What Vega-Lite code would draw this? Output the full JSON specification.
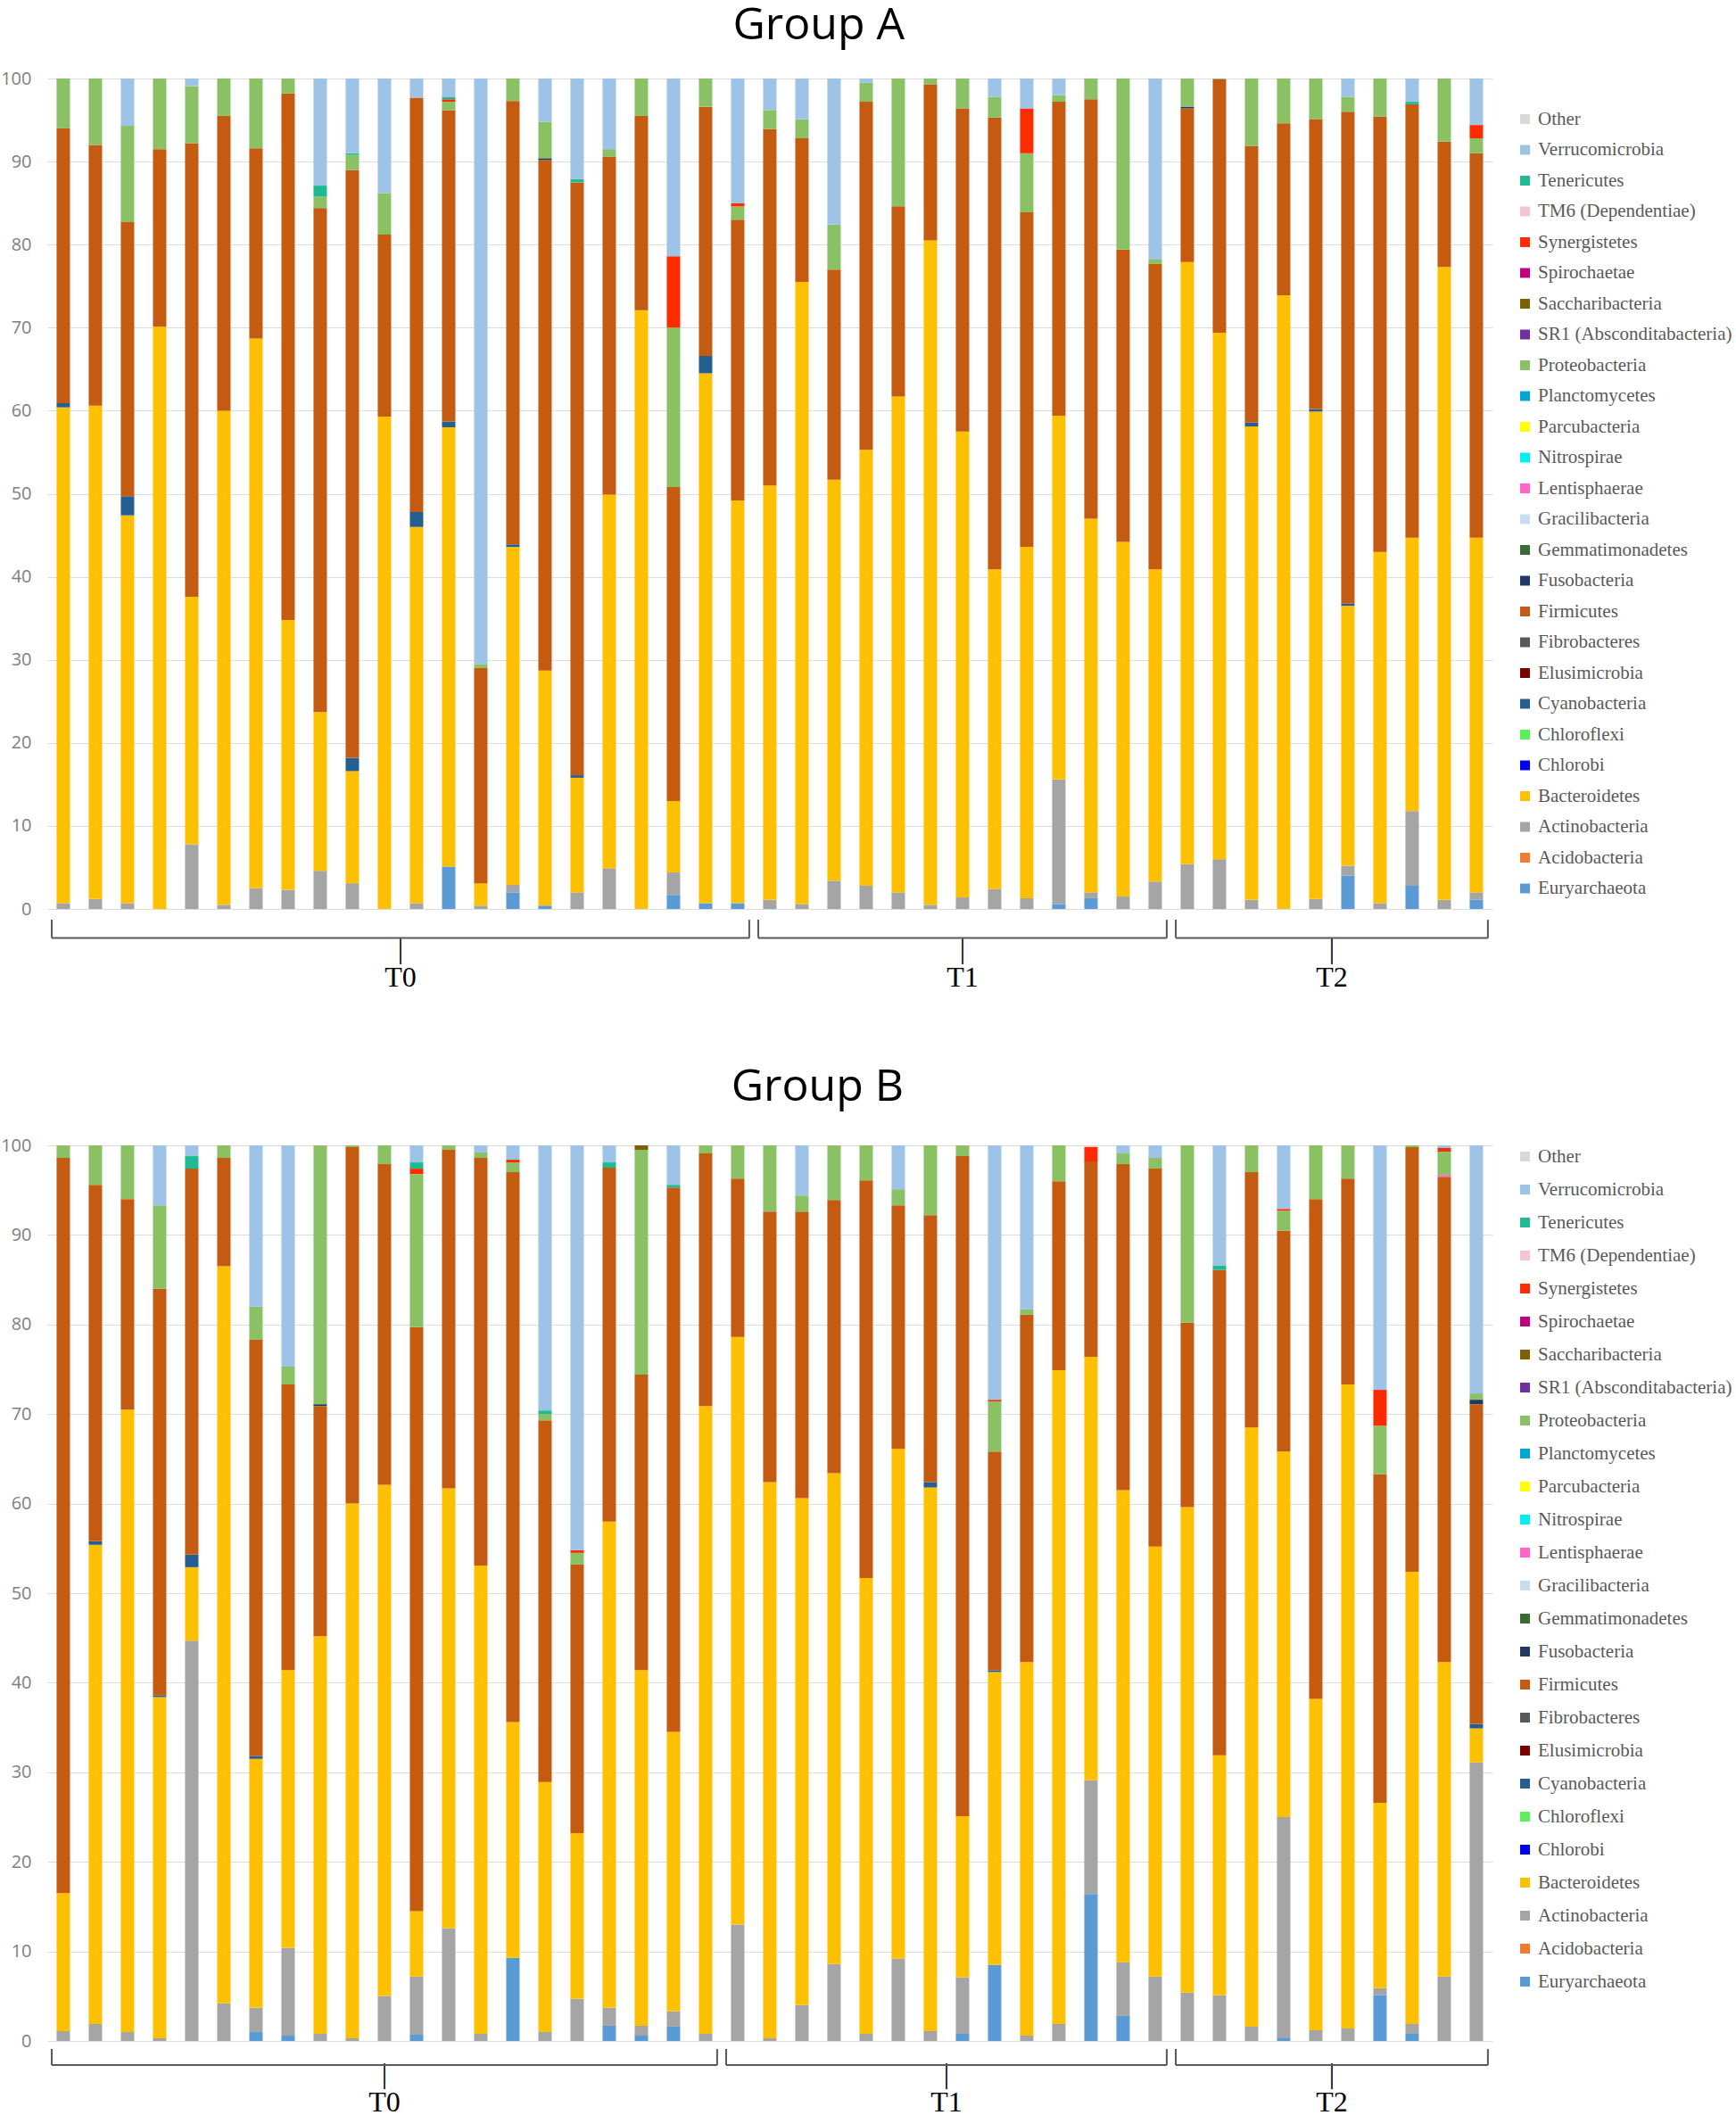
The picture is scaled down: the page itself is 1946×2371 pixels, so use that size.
{
 "$schema": "https://vega.github.io/schema/vega-lite/v6.json",
 "padding": {"left": 0, "top": 4, "right": 0, "bottom": 0},
 "background": "white",
 "config": {"view": {"stroke": null}, "font": "Open Sans", "facet": {"spacing": 0}},
 "datasets": {
  "groupA": [
   {"sample":"A01","time":"T0","Actinobacteria":0.7,"Bacteroidetes":59.7,"Cyanobacteria":0.5,"Firmicutes":33.1,"Proteobacteria":6.0},
   {"sample":"A02","time":"T0","Actinobacteria":1.2,"Bacteroidetes":59.4,"Firmicutes":31.4,"Proteobacteria":8.0},
   {"sample":"A03","time":"T0","Actinobacteria":0.7,"Bacteroidetes":46.7,"Cyanobacteria":2.3,"Firmicutes":33.0,"Proteobacteria":11.6,"Verrucomicrobia":5.7},
   {"sample":"A04","time":"T0","Bacteroidetes":70.1,"Firmicutes":21.4,"Proteobacteria":8.5},
   {"sample":"A05","time":"T0","Actinobacteria":7.8,"Bacteroidetes":29.8,"Firmicutes":54.6,"Proteobacteria":6.9,"Verrucomicrobia":0.9},
   {"sample":"A06","time":"T0","Actinobacteria":0.5,"Bacteroidetes":59.5,"Firmicutes":35.5,"Proteobacteria":4.5},
   {"sample":"A07","time":"T0","Actinobacteria":2.5,"Bacteroidetes":66.2,"Firmicutes":22.9,"Proteobacteria":8.4},
   {"sample":"A08","time":"T0","Actinobacteria":2.3,"Bacteroidetes":32.5,"Firmicutes":63.4,"Proteobacteria":1.8},
   {"sample":"A09","time":"T0","Actinobacteria":4.6,"Bacteroidetes":19.1,"Firmicutes":60.7,"Proteobacteria":1.4,"Tenericutes":1.3,"Verrucomicrobia":12.9},
   {"sample":"A10","time":"T0","Actinobacteria":3.1,"Bacteroidetes":13.5,"Cyanobacteria":1.6,"Firmicutes":70.8,"Proteobacteria":1.8,"Tenericutes":0.2,"Verrucomicrobia":9.0},
   {"sample":"A11","time":"T0","Bacteroidetes":59.3,"Firmicutes":21.9,"Proteobacteria":5.0,"Verrucomicrobia":13.8},
   {"sample":"A12","time":"T0","Actinobacteria":0.7,"Bacteroidetes":45.3,"Cyanobacteria":1.8,"Firmicutes":49.9,"Verrucomicrobia":2.3},
   {"sample":"A13","time":"T0","Euryarchaeota":5.1,"Bacteroidetes":52.9,"Cyanobacteria":0.7,"Firmicutes":37.5,"Proteobacteria":1.0,"Synergistetes":0.3,"Tenericutes":0.3,"Verrucomicrobia":2.2},
   {"sample":"A14","time":"T0","Actinobacteria":0.4,"Bacteroidetes":2.7,"Firmicutes":25.9,"Proteobacteria":0.5,"Verrucomicrobia":70.5},
   {"sample":"A15","time":"T0","Euryarchaeota":2.0,"Actinobacteria":0.9,"Bacteroidetes":40.7,"Cyanobacteria":0.3,"Firmicutes":53.4,"Proteobacteria":2.7},
   {"sample":"A16","time":"T0","Euryarchaeota":0.4,"Bacteroidetes":28.3,"Firmicutes":61.5,"Proteobacteria":4.4,"Fusobacteria":0.2,"Verrucomicrobia":5.2},
   {"sample":"A17","time":"T0","Actinobacteria":2.0,"Bacteroidetes":13.8,"Cyanobacteria":0.3,"Firmicutes":71.4,"Tenericutes":0.4,"Verrucomicrobia":12.1},
   {"sample":"A18","time":"T0","Actinobacteria":4.9,"Bacteroidetes":45.0,"Firmicutes":40.7,"Proteobacteria":0.9,"Verrucomicrobia":8.5},
   {"sample":"A19","time":"T0","Bacteroidetes":72.1,"Firmicutes":23.4,"Proteobacteria":4.5},
   {"sample":"A20","time":"T0","Euryarchaeota":1.7,"Actinobacteria":2.7,"Bacteroidetes":8.6,"Firmicutes":37.8,"Proteobacteria":19.2,"Synergistetes":8.6,"Verrucomicrobia":21.4},
   {"sample":"A21","time":"T0","Euryarchaeota":0.7,"Bacteroidetes":63.8,"Cyanobacteria":2.1,"Firmicutes":30.0,"Proteobacteria":3.4},
   {"sample":"A22","time":"T0","Euryarchaeota":0.7,"Bacteroidetes":48.5,"Firmicutes":33.8,"Proteobacteria":1.6,"Synergistetes":0.4,"Verrucomicrobia":15.0},
   {"sample":"A23","time":"T1","Actinobacteria":1.1,"Bacteroidetes":49.9,"Firmicutes":42.9,"Proteobacteria":2.3,"Verrucomicrobia":3.8},
   {"sample":"A24","time":"T1","Actinobacteria":0.6,"Bacteroidetes":74.9,"Firmicutes":17.3,"Proteobacteria":2.3,"Verrucomicrobia":4.9},
   {"sample":"A25","time":"T1","Actinobacteria":3.4,"Bacteroidetes":48.3,"Firmicutes":25.3,"Proteobacteria":5.4,"Verrucomicrobia":17.6},
   {"sample":"A26","time":"T1","Actinobacteria":2.8,"Bacteroidetes":52.5,"Firmicutes":41.9,"Proteobacteria":2.3,"Verrucomicrobia":0.5},
   {"sample":"A27","time":"T1","Actinobacteria":2.0,"Bacteroidetes":59.7,"Firmicutes":22.9,"Proteobacteria":15.4},
   {"sample":"A28","time":"T1","Actinobacteria":0.5,"Bacteroidetes":80.0,"Firmicutes":18.8,"Proteobacteria":0.7},
   {"sample":"A29","time":"T1","Actinobacteria":1.4,"Bacteroidetes":56.1,"Firmicutes":38.9,"Proteobacteria":3.6},
   {"sample":"A30","time":"T1","Actinobacteria":2.4,"Bacteroidetes":38.5,"Firmicutes":54.4,"Proteobacteria":2.5,"Verrucomicrobia":2.2},
   {"sample":"A31","time":"T1","Actinobacteria":1.3,"Bacteroidetes":42.3,"Firmicutes":40.3,"Proteobacteria":7.1,"Synergistetes":5.4,"Verrucomicrobia":3.6},
   {"sample":"A32","time":"T1","Euryarchaeota":0.6,"Actinobacteria":15.0,"Bacteroidetes":43.8,"Firmicutes":37.8,"Proteobacteria":0.8,"Verrucomicrobia":2.0},
   {"sample":"A33","time":"T1","Euryarchaeota":1.3,"Actinobacteria":0.7,"Bacteroidetes":45.0,"Firmicutes":50.5,"Proteobacteria":2.5},
   {"sample":"A34","time":"T1","Actinobacteria":1.5,"Bacteroidetes":42.7,"Firmicutes":35.2,"Proteobacteria":20.6},
   {"sample":"A35","time":"T1","Actinobacteria":3.3,"Bacteroidetes":37.6,"Firmicutes":36.8,"Proteobacteria":0.5,"Verrucomicrobia":21.8},
   {"sample":"A36","time":"T2","Actinobacteria":5.4,"Bacteroidetes":72.5,"Firmicutes":18.5,"Fusobacteria":0.2,"Proteobacteria":3.4},
   {"sample":"A37","time":"T2","Actinobacteria":6.0,"Bacteroidetes":63.4,"Firmicutes":30.5,"Proteobacteria":0.1},
   {"sample":"A38","time":"T2","Actinobacteria":1.1,"Bacteroidetes":57.0,"Cyanobacteria":0.5,"Firmicutes":33.3,"Proteobacteria":8.1},
   {"sample":"A39","time":"T2","Bacteroidetes":73.9,"Firmicutes":20.7,"Proteobacteria":5.4},
   {"sample":"A40","time":"T2","Actinobacteria":1.2,"Bacteroidetes":58.7,"Cyanobacteria":0.3,"Firmicutes":34.9,"Proteobacteria":4.9},
   {"sample":"A41","time":"T2","Euryarchaeota":4.0,"Actinobacteria":1.2,"Bacteroidetes":31.3,"Cyanobacteria":0.3,"Firmicutes":59.2,"Proteobacteria":1.8,"Verrucomicrobia":2.2},
   {"sample":"A42","time":"T2","Actinobacteria":0.7,"Bacteroidetes":42.3,"Firmicutes":52.4,"Proteobacteria":4.6},
   {"sample":"A43","time":"T2","Euryarchaeota":2.8,"Actinobacteria":9.0,"Bacteroidetes":32.9,"Firmicutes":52.2,"Tenericutes":0.3,"Verrucomicrobia":2.8},
   {"sample":"A44","time":"T2","Actinobacteria":1.1,"Bacteroidetes":76.2,"Firmicutes":15.1,"Proteobacteria":7.6},
   {"sample":"A45","time":"T2","Euryarchaeota":1.1,"Actinobacteria":0.9,"Bacteroidetes":42.7,"Firmicutes":46.3,"Proteobacteria":1.8,"Synergistetes":1.6,"Verrucomicrobia":5.6}
  ],
  "groupB": [
   {"sample":"B01","time":"T0","Actinobacteria":1.1,"Bacteroidetes":15.4,"Firmicutes":82.1,"Proteobacteria":1.4},
   {"sample":"B02","time":"T0","Actinobacteria":1.9,"Bacteroidetes":53.5,"Cyanobacteria":0.4,"Firmicutes":39.8,"Proteobacteria":4.4},
   {"sample":"B03","time":"T0","Actinobacteria":1.0,"Bacteroidetes":69.5,"Firmicutes":23.5,"Proteobacteria":6.0},
   {"sample":"B04","time":"T0","Actinobacteria":0.3,"Bacteroidetes":38.1,"Cyanobacteria":0.2,"Firmicutes":45.4,"Proteobacteria":9.3,"Verrucomicrobia":6.7},
   {"sample":"B05","time":"T0","Actinobacteria":44.7,"Bacteroidetes":8.2,"Cyanobacteria":1.4,"Firmicutes":43.1,"Tenericutes":1.4,"Verrucomicrobia":1.2},
   {"sample":"B06","time":"T0","Actinobacteria":4.2,"Bacteroidetes":82.3,"Firmicutes":12.1,"Proteobacteria":1.4},
   {"sample":"B07","time":"T0","Euryarchaeota":1.0,"Actinobacteria":2.7,"Bacteroidetes":27.8,"Cyanobacteria":0.3,"Firmicutes":46.5,"Proteobacteria":3.7,"Verrucomicrobia":18.0},
   {"sample":"B08","time":"T0","Euryarchaeota":0.6,"Actinobacteria":9.8,"Bacteroidetes":31.0,"Firmicutes":31.9,"Proteobacteria":2.0,"Verrucomicrobia":24.7},
   {"sample":"B09","time":"T0","Actinobacteria":0.8,"Bacteroidetes":44.4,"Firmicutes":25.7,"Fusobacteria":0.2,"Proteobacteria":28.9},
   {"sample":"B10","time":"T0","Actinobacteria":0.3,"Bacteroidetes":59.7,"Firmicutes":39.8,"Proteobacteria":0.2},
   {"sample":"B11","time":"T0","Actinobacteria":5.0,"Bacteroidetes":57.1,"Firmicutes":35.8,"Proteobacteria":2.1},
   {"sample":"B12","time":"T0","Euryarchaeota":0.7,"Actinobacteria":6.5,"Bacteroidetes":7.3,"Firmicutes":65.2,"Proteobacteria":17.1,"Synergistetes":0.6,"Tenericutes":0.7,"Verrucomicrobia":1.9},
   {"sample":"B13","time":"T0","Actinobacteria":12.6,"Bacteroidetes":49.1,"Firmicutes":37.8,"Proteobacteria":0.5},
   {"sample":"B14","time":"T0","Actinobacteria":0.8,"Bacteroidetes":52.3,"Firmicutes":45.5,"Proteobacteria":0.6,"Verrucomicrobia":0.8},
   {"sample":"B15","time":"T0","Euryarchaeota":9.3,"Bacteroidetes":26.3,"Firmicutes":61.4,"Proteobacteria":1.1,"Synergistetes":0.3,"Verrucomicrobia":1.6},
   {"sample":"B16","time":"T0","Actinobacteria":1.0,"Bacteroidetes":27.9,"Firmicutes":40.4,"Proteobacteria":0.7,"Tenericutes":0.4,"Verrucomicrobia":29.6},
   {"sample":"B17","time":"T0","Actinobacteria":4.7,"Bacteroidetes":18.5,"Firmicutes":30.0,"Proteobacteria":1.3,"Synergistetes":0.3,"Verrucomicrobia":45.2},
   {"sample":"B18","time":"T0","Euryarchaeota":1.7,"Actinobacteria":2.0,"Bacteroidetes":54.3,"Firmicutes":39.5,"Tenericutes":0.6,"Verrucomicrobia":1.9},
   {"sample":"B19","time":"T0","Euryarchaeota":0.6,"Actinobacteria":1.1,"Bacteroidetes":39.7,"Firmicutes":33.0,"Proteobacteria":25.1,"Saccharibacteria":0.5},
   {"sample":"B20","time":"T0","Euryarchaeota":1.6,"Actinobacteria":1.7,"Bacteroidetes":31.2,"Firmicutes":60.8,"Tenericutes":0.3,"Verrucomicrobia":4.4},
   {"sample":"B21","time":"T0","Actinobacteria":0.8,"Bacteroidetes":70.1,"Firmicutes":28.2,"Proteobacteria":0.9},
   {"sample":"B22","time":"T1","Actinobacteria":13.0,"Bacteroidetes":65.6,"Firmicutes":17.7,"Proteobacteria":3.7},
   {"sample":"B23","time":"T1","Actinobacteria":0.3,"Bacteroidetes":62.1,"Firmicutes":30.2,"Proteobacteria":7.4},
   {"sample":"B24","time":"T1","Actinobacteria":4.0,"Bacteroidetes":56.6,"Firmicutes":32.0,"Proteobacteria":1.8,"Verrucomicrobia":5.6},
   {"sample":"B25","time":"T1","Actinobacteria":8.6,"Bacteroidetes":54.8,"Firmicutes":30.5,"Proteobacteria":6.1},
   {"sample":"B26","time":"T1","Actinobacteria":0.8,"Bacteroidetes":50.9,"Firmicutes":44.4,"Proteobacteria":3.9},
   {"sample":"B27","time":"T1","Actinobacteria":9.2,"Bacteroidetes":56.9,"Firmicutes":27.2,"Proteobacteria":1.8,"Verrucomicrobia":4.9},
   {"sample":"B28","time":"T1","Actinobacteria":1.1,"Bacteroidetes":60.7,"Cyanobacteria":0.6,"Firmicutes":29.8,"Proteobacteria":7.8},
   {"sample":"B29","time":"T1","Euryarchaeota":0.8,"Actinobacteria":6.3,"Bacteroidetes":18.0,"Firmicutes":73.7,"Proteobacteria":1.2},
   {"sample":"B30","time":"T1","Euryarchaeota":8.5,"Bacteroidetes":32.7,"Cyanobacteria":0.2,"Firmicutes":24.4,"Proteobacteria":5.6,"Synergistetes":0.2,"Verrucomicrobia":28.4},
   {"sample":"B31","time":"T1","Actinobacteria":0.6,"Bacteroidetes":41.7,"Firmicutes":38.8,"Proteobacteria":0.6,"Verrucomicrobia":18.3},
   {"sample":"B32","time":"T1","Actinobacteria":1.9,"Bacteroidetes":73.0,"Firmicutes":21.1,"Proteobacteria":4.0},
   {"sample":"B33","time":"T1","Euryarchaeota":16.4,"Actinobacteria":12.7,"Bacteroidetes":47.3,"Firmicutes":21.8,"TM6 (Dependentiae)":0.2,"Synergistetes":1.6},
   {"sample":"B34","time":"T1","Euryarchaeota":2.8,"Actinobacteria":6.0,"Bacteroidetes":52.7,"Firmicutes":36.4,"Proteobacteria":1.2,"Verrucomicrobia":0.9},
   {"sample":"B35","time":"T1","Actinobacteria":7.2,"Bacteroidetes":48.0,"Firmicutes":42.2,"Proteobacteria":1.2,"Verrucomicrobia":1.4},
   {"sample":"B36","time":"T2","Actinobacteria":5.4,"Bacteroidetes":54.2,"Firmicutes":20.6,"Proteobacteria":19.8},
   {"sample":"B37","time":"T2","Actinobacteria":5.1,"Bacteroidetes":26.8,"Firmicutes":54.2,"Tenericutes":0.5,"Verrucomicrobia":13.4},
   {"sample":"B38","time":"T2","Actinobacteria":1.6,"Bacteroidetes":66.9,"Firmicutes":28.5,"Proteobacteria":3.0},
   {"sample":"B39","time":"T2","Euryarchaeota":0.3,"Actinobacteria":24.7,"Bacteroidetes":40.8,"Firmicutes":24.7,"Proteobacteria":2.2,"Synergistetes":0.2,"Verrucomicrobia":7.1},
   {"sample":"B40","time":"T2","Actinobacteria":1.2,"Bacteroidetes":37.0,"Firmicutes":55.8,"Proteobacteria":6.0},
   {"sample":"B41","time":"T2","Actinobacteria":1.4,"Bacteroidetes":71.9,"Firmicutes":23.0,"Proteobacteria":3.7},
   {"sample":"B42","time":"T2","Euryarchaeota":5.1,"Actinobacteria":0.8,"Bacteroidetes":20.7,"Firmicutes":36.7,"Proteobacteria":5.4,"Synergistetes":4.0,"Verrucomicrobia":27.3},
   {"sample":"B43","time":"T2","Euryarchaeota":0.8,"Actinobacteria":1.1,"Bacteroidetes":50.5,"Firmicutes":47.4,"Proteobacteria":0.2},
   {"sample":"B44","time":"T2","Actinobacteria":7.2,"Bacteroidetes":35.1,"Firmicutes":54.2,"Lentisphaerae":0.2,"Proteobacteria":2.6,"Synergistetes":0.4,"Verrucomicrobia":0.3},
   {"sample":"B45","time":"T2","Actinobacteria":31.1,"Bacteroidetes":3.8,"Cyanobacteria":0.5,"Firmicutes":35.7,"Fusobacteria":0.5,"Proteobacteria":0.7,"Verrucomicrobia":27.7}
  ]
 },
 "vconcat": [
  {
   "data": {"name": "groupA"},
   "title": {"text": "Group A", "fontSize": 50, "font": "Open Sans", "fontWeight": "normal", "color": "#000000", "anchor": "middle", "frame": "bounds", "offset": 24, "dx": -71},
   "facet": {"column": {"field": "time", "type": "nominal", "title": null,
     "header": {"labelOrient": "bottom", "labelFont": "Liberation Serif", "labelFontSize": 32, "labelColor": "#000000", "labelPadding": 30, "labelLineHeight": 32, "labelExpr": "['|', datum.label]"}}},
   "spacing": {"row": 0, "column": 0},
   "bounds": "flush",
   "resolve": {"scale": {"x": "independent"}},
   "spec": {
    "width": {"step": 36},
    "height": 931,
    "layer": [
     {
      "transform": [
       {"fold": ["Euryarchaeota","Acidobacteria","Actinobacteria","Bacteroidetes","Chlorobi","Chloroflexi","Cyanobacteria","Elusimicrobia","Fibrobacteres","Firmicutes","Fusobacteria","Gemmatimonadetes","Gracilibacteria","Lentisphaerae","Nitrospirae","Parcubacteria","Planctomycetes","Proteobacteria","SR1 (Absconditabacteria)","Saccharibacteria","Spirochaetae","Synergistetes","TM6 (Dependentiae)","Tenericutes","Verrucomicrobia","Other"], "as": ["phylum", "abundance"]},
       {"window": [{"op": "row_number", "as": "stackRank"}], "groupby": ["sample"]},
       {"filter": "datum.abundance > 0"}
      ],
      "mark": {"type": "bar"},
      "encoding": {
       "x": {"field": "sample", "type": "nominal", "axis": null, "scale": {"paddingInner": 0.583, "paddingOuter": 0.29}},
       "y": {"field": "abundance", "type": "quantitative", "stack": "zero", "scale": {"domain": [0, 100], "nice": false},
        "axis": {"title": null, "values": [0,10,20,30,40,50,60,70,80,90,100], "grid": true, "gridColor": "#DCDCDC", "domain": false, "ticks": false, "labelFont": "Open Sans", "labelFontSize": 20, "labelColor": "#7F7F7F", "labelPadding": 18}},
       "order": {"field": "stackRank", "type": "quantitative", "sort": "ascending"},
       "color": {"field": "phylum", "type": "nominal",
        "scale": {"domain": ["Euryarchaeota","Acidobacteria","Actinobacteria","Bacteroidetes","Chlorobi","Chloroflexi","Cyanobacteria","Elusimicrobia","Fibrobacteres","Firmicutes","Fusobacteria","Gemmatimonadetes","Gracilibacteria","Lentisphaerae","Nitrospirae","Parcubacteria","Planctomycetes","Proteobacteria","SR1 (Absconditabacteria)","Saccharibacteria","Spirochaetae","Synergistetes","TM6 (Dependentiae)","Tenericutes","Verrucomicrobia","Other"],
         "range": ["#5B9BD5","#ED7D31","#A5A5A5","#FFC000","#0000F0","#5BF05B","#255E91","#7B0000","#595959","#C55A11","#1F3864","#3B6B35","#C9DDF0","#FF66CC","#00F0F0","#FFFF00","#00A6D6","#8BC165","#7030A0","#7F6000","#C0007F","#FF2B00","#F4C7CE","#1DBB93","#9DC3E6","#D9D9D9"]},
        "legend": {"title": null, "orient": "right", "offset": -9, "padding": 35, "symbolType": "square", "symbolSize": 120, "symbolStrokeWidth": 0, "labelFont": "Liberation Serif", "labelFontSize": 21, "labelColor": "#595959", "rowPadding": 12.5, "labelOffset": 4, "labelLimit": 300,
         "values": ["Other","Verrucomicrobia","Tenericutes","TM6 (Dependentiae)","Synergistetes","Spirochaetae","Saccharibacteria","SR1 (Absconditabacteria)","Proteobacteria","Planctomycetes","Parcubacteria","Nitrospirae","Lentisphaerae","Gracilibacteria","Gemmatimonadetes","Fusobacteria","Firmicutes","Fibrobacteres","Elusimicrobia","Cyanobacteria","Chloroflexi","Chlorobi","Bacteroidetes","Actinobacteria","Acidobacteria","Euryarchaeota"]}}
      }
     },
     {
      "transform": [{"aggregate": [{"op": "count", "as": "n"}]}],
      "mark": {"type": "rule", "color": "#595959", "strokeWidth": 2, "xOffset": 5, "x2Offset": -5},
      "encoding": {"x": {"value": 0}, "x2": {"value": "width"}, "y": {"datum": -3.5}}
     },
     {
      "transform": [{"aggregate": [{"op": "count", "as": "n"}]}],
      "mark": {"type": "rule", "color": "#595959", "strokeWidth": 2, "xOffset": 5},
      "encoding": {"x": {"value": 0}, "y": {"datum": -3.5}, "y2": {"datum": -1.3}}
     },
     {
      "transform": [{"aggregate": [{"op": "count", "as": "n"}]}],
      "mark": {"type": "rule", "color": "#595959", "strokeWidth": 2, "xOffset": -5},
      "encoding": {"x": {"value": "width"}, "y": {"datum": -3.5}, "y2": {"datum": -1.3}}
     }
    ]
   }
  },
  {
   "data": {"name": "groupB"},
   "title": {"text": "Group B", "fontSize": 50, "font": "Open Sans", "fontWeight": "normal", "color": "#000000", "anchor": "middle", "frame": "bounds", "offset": 30, "dx": -56},
   "facet": {"column": {"field": "time", "type": "nominal", "title": null,
     "header": {"labelOrient": "bottom", "labelFont": "Liberation Serif", "labelFontSize": 32, "labelColor": "#000000", "labelPadding": 22, "labelLineHeight": 32, "labelExpr": "['|', datum.label]"}}},
   "spacing": {"row": 0, "column": 0},
   "bounds": "flush",
   "resolve": {"scale": {"x": "independent"}},
   "spec": {
    "width": {"step": 36},
    "height": 1004,
    "layer": [
     {
      "transform": [
       {"fold": ["Euryarchaeota","Acidobacteria","Actinobacteria","Bacteroidetes","Chlorobi","Chloroflexi","Cyanobacteria","Elusimicrobia","Fibrobacteres","Firmicutes","Fusobacteria","Gemmatimonadetes","Gracilibacteria","Lentisphaerae","Nitrospirae","Parcubacteria","Planctomycetes","Proteobacteria","SR1 (Absconditabacteria)","Saccharibacteria","Spirochaetae","Synergistetes","TM6 (Dependentiae)","Tenericutes","Verrucomicrobia","Other"], "as": ["phylum", "abundance"]},
       {"window": [{"op": "row_number", "as": "stackRank"}], "groupby": ["sample"]},
       {"filter": "datum.abundance > 0"}
      ],
      "mark": {"type": "bar"},
      "encoding": {
       "x": {"field": "sample", "type": "nominal", "axis": null, "scale": {"paddingInner": 0.583, "paddingOuter": 0.29}},
       "y": {"field": "abundance", "type": "quantitative", "stack": "zero", "scale": {"domain": [0, 100], "nice": false},
        "axis": {"title": null, "values": [0,10,20,30,40,50,60,70,80,90,100], "grid": true, "gridColor": "#DCDCDC", "domain": false, "ticks": false, "labelFont": "Open Sans", "labelFontSize": 20, "labelColor": "#7F7F7F", "labelPadding": 18}},
       "order": {"field": "stackRank", "type": "quantitative", "sort": "ascending"},
       "color": {"field": "phylum", "type": "nominal",
        "scale": {"domain": ["Euryarchaeota","Acidobacteria","Actinobacteria","Bacteroidetes","Chlorobi","Chloroflexi","Cyanobacteria","Elusimicrobia","Fibrobacteres","Firmicutes","Fusobacteria","Gemmatimonadetes","Gracilibacteria","Lentisphaerae","Nitrospirae","Parcubacteria","Planctomycetes","Proteobacteria","SR1 (Absconditabacteria)","Saccharibacteria","Spirochaetae","Synergistetes","TM6 (Dependentiae)","Tenericutes","Verrucomicrobia","Other"],
         "range": ["#5B9BD5","#ED7D31","#A5A5A5","#FFC000","#0000F0","#5BF05B","#255E91","#7B0000","#595959","#C55A11","#1F3864","#3B6B35","#C9DDF0","#FF66CC","#00F0F0","#FFFF00","#00A6D6","#8BC165","#7030A0","#7F6000","#C0007F","#FF2B00","#F4C7CE","#1DBB93","#9DC3E6","#D9D9D9"]},
        "legend": {"title": null, "orient": "right", "offset": 24, "padding": 2, "symbolType": "square", "symbolSize": 120, "symbolStrokeWidth": 0, "labelFont": "Liberation Serif", "labelFontSize": 21, "labelColor": "#595959", "rowPadding": 15, "labelOffset": 4, "labelLimit": 300,
         "values": ["Other","Verrucomicrobia","Tenericutes","TM6 (Dependentiae)","Synergistetes","Spirochaetae","Saccharibacteria","SR1 (Absconditabacteria)","Proteobacteria","Planctomycetes","Parcubacteria","Nitrospirae","Lentisphaerae","Gracilibacteria","Gemmatimonadetes","Fusobacteria","Firmicutes","Fibrobacteres","Elusimicrobia","Cyanobacteria","Chloroflexi","Chlorobi","Bacteroidetes","Actinobacteria","Acidobacteria","Euryarchaeota"]}}
      }
     },
     {
      "transform": [{"aggregate": [{"op": "count", "as": "n"}]}],
      "mark": {"type": "rule", "color": "#595959", "strokeWidth": 2, "xOffset": 5, "x2Offset": -5},
      "encoding": {"x": {"value": 0}, "x2": {"value": "width"}, "y": {"datum": -2.7}}
     },
     {
      "transform": [{"aggregate": [{"op": "count", "as": "n"}]}],
      "mark": {"type": "rule", "color": "#595959", "strokeWidth": 2, "xOffset": 5},
      "encoding": {"x": {"value": 0}, "y": {"datum": -2.7}, "y2": {"datum": -0.9}}
     },
     {
      "transform": [{"aggregate": [{"op": "count", "as": "n"}]}],
      "mark": {"type": "rule", "color": "#595959", "strokeWidth": 2, "xOffset": -5},
      "encoding": {"x": {"value": "width"}, "y": {"datum": -2.7}, "y2": {"datum": -0.9}}
     }
    ]
   }
  }
 ],
 "spacing": 82,
 "resolve": {"scale": {"color": "independent"}, "legend": {"color": "independent"}}
}
